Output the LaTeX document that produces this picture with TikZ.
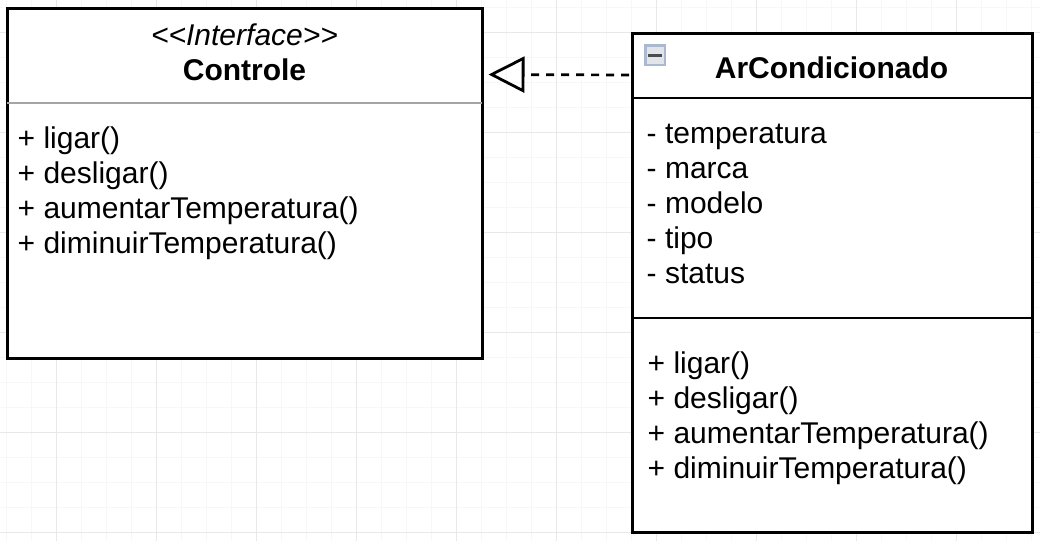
\documentclass[tikz,border=0pt]{standalone}
\usepackage{fontspec}
\setmainfont{Liberation Sans}
\usetikzlibrary{arrows.meta}
\definecolor{gridmajor}{RGB}{232,232,232}
\definecolor{gridminor}{RGB}{247,247,247}
\definecolor{sepgray}{RGB}{165,165,165}
\definecolor{iconedge}{RGB}{170,185,205}
\definecolor{iconface}{RGB}{225,229,234}
\tikzset{
  umlbox/.style={draw=black,line width=3pt,fill=white,rectangle,inner sep=0pt,outer sep=0pt,anchor=north west},
  txt/.style={font=\fontsize{30}{35}\selectfont,anchor=base west,inner sep=0pt,text=black},
  title/.style={font=\fontsize{30}{35}\selectfont\bfseries,anchor=base,inner sep=0pt,text=black},
  realize/.style={draw=black,line width=2.7pt,dash pattern=on 8pt off 7pt,dash phase=12pt,
    -{Triangle[open,fill=none,length=36pt,width=36pt,line width=2.8pt,sep=0pt]}},
}
\begin{document}
\begin{tikzpicture}[x=1pt,y=-1pt]
\useasboundingbox (0,0) rectangle (1040,541);
\fill[white] (0,0) rectangle (1040,541);
% grid
\foreach \i in {0,...,41} {\draw[gridminor,line width=1pt] ({6.5+25*\i},0) -- ({6.5+25*\i},541);}
\foreach \i in {0,...,21} {\draw[gridminor,line width=1pt] (0,{7.5+25*\i}) -- (1040,{7.5+25*\i});}
\foreach \i in {0,...,9} {\draw[gridmajor,line width=1pt] ({56.5+100*\i},0) -- ({56.5+100*\i},541);}
\foreach \i in {0,...,5} {\draw[gridmajor,line width=1pt] (0,{32.5+100*\i}) -- (1040,{32.5+100*\i});}
% Controle
\node[umlbox,minimum width=475pt,minimum height=350pt] (ctrl) at (7,8) {};
\coordinate (ctrlsepL) at (7,103);
\coordinate (ctrlsepR) at (482,103);
\draw[sepgray,line width=2.6pt] (ctrlsepL) -- (ctrlsepR);
\node[font=\fontsize{30}{35}\selectfont\itshape,anchor=base,inner sep=0pt] (stereo) at (244.5,45) {<{}<Interface>{}>};
\node[title] (ctrlname) at (244.5,80) {Controle};
\node[txt] (c1) at (17.5,148) {+ ligar()};
\node[txt] (c2) at (17.5,183) {+ desligar()};
\node[txt] (c3) at (17.5,218) {+ aumentarTemperatura()};
\node[txt] (c4) at (17.5,253) {+ diminuirTemperatura()};
% ArCondicionado
\node[umlbox,minimum width=400pt,minimum height=499pt] (ar) at (632,33) {};
\coordinate (arsepAL) at (632,98);
\coordinate (arsepAR) at (1032,98);
\coordinate (arsepBL) at (632,318);
\coordinate (arsepBR) at (1032,318);
\draw[black,line width=2.6pt] (arsepAL) -- (arsepAR);
\draw[black,line width=2.6pt] (arsepBL) -- (arsepBR);
\node[title] (arname) at (831.5,78) {ArCondicionado};
\node[txt] (a1) at (646.5,143) {- temperatura};
\node[txt] (a2) at (646.5,178) {- marca};
\node[txt] (a3) at (646.5,213) {- modelo};
\node[txt] (a4) at (646.5,248) {- tipo};
\node[txt] (a5) at (646.5,283) {- status};
\node[txt] (m1) at (647.5,373) {+ ligar()};
\node[txt] (m2) at (647.5,408) {+ desligar()};
\node[txt] (m3) at (647.5,443) {+ aumentarTemperatura()};
\node[txt] (m4) at (647.5,478) {+ diminuirTemperatura()};
% collapse icon
\node[rectangle,draw=none,fill=iconedge,inner sep=0pt,outer sep=0pt,minimum width=22pt,minimum height=22pt,anchor=north west] (icon) at (644,44) {};
\fill[iconface] (646.5,46.5) rectangle (663.5,63.5);
\fill[black!70] (648,54) rectangle (662,57);
% realization
\coordinate (tip) at (488.5,74.5);
\coordinate (arport) at (632,75);
\draw[realize] (arport) -- (tip);
\end{tikzpicture}
\end{document}
